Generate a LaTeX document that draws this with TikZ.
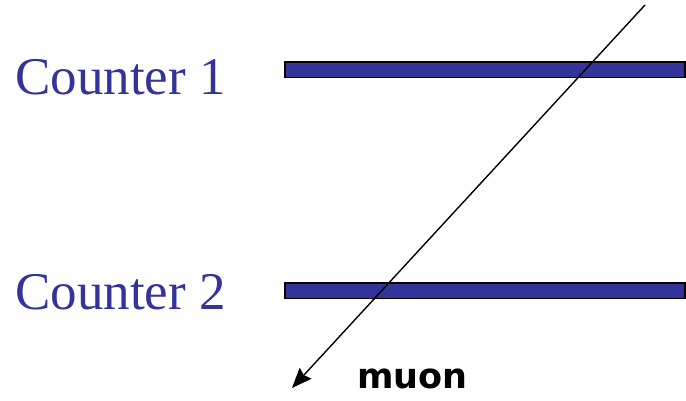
\documentclass[tikz,border=0pt]{standalone}
\usepackage{fontspec}
\setmainfont{Liberation Serif}
\newfontfamily\muonfont{DejaVu Sans}
\usetikzlibrary{arrows.meta, positioning}
\definecolor{counterblue}{HTML}{333399}
\tikzset{
    counter/.style={rectangle, draw=black, fill=counterblue, line width=1.5pt, minimum width=400pt, minimum height=15.5pt, inner sep=0pt},
    counterlabel/.style={text=counterblue, font=\fontsize{53}{53}\selectfont, anchor=base west, inner sep=0pt},
    track/.style={-{Stealth[length=20pt, width=16pt, inset=2.5pt]}, line width=1.4pt},
}

\begin{document}
\begin{tikzpicture}[x=1pt, y=-1pt]
        \useasboundingbox (0,0) rectangle (686,400);
        % Counters
        \node[counter] (c1) at (485,69.5) {};
        \node[counter] (c2) at (485,290.5) {};
        \node[counterlabel] (l1) at (15,94) {Counter 1};
        \node[counterlabel] (l2) at (15,309) {Counter 2};

        % Muon track
        \coordinate (src) at (645,5);
        \coordinate (dst) at (292,388);
        \draw[track] (src) -- (dst);
        \node[font=\muonfont\bfseries\fontsize{35}{35}\selectfont, anchor=base west, inner sep=0pt] (mu) at (357,388) {muon};
    \end{tikzpicture}
\end{document}
